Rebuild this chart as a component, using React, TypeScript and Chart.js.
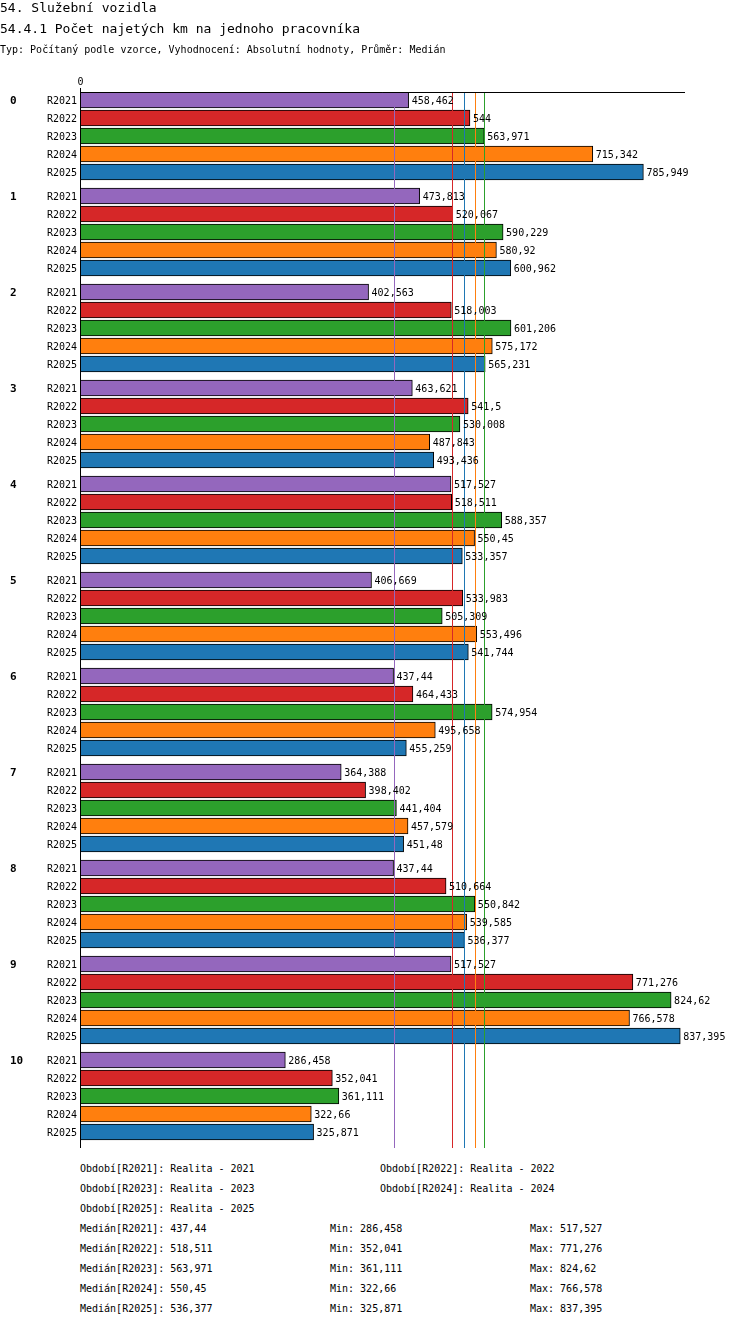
import React, { useEffect, useRef } from "react";
import { Chart, registerables } from "chart.js";
Chart.register(...registerables);

const groups = ["0", "1", "2", "3", "4", "5", "6", "7", "8", "9", "10"];
const seriesNames = ["R2021", "R2022", "R2023", "R2024", "R2025"];
const colors = ["#9467bd", "#d62728", "#2ca02c", "#ff7f0e", "#1f77b4"];
const r2021 = [458.462, 473.813, 402.563, 463.621, 517.527, 406.669, 437.44, 364.388, 437.44, 517.527, 286.458];
const r2022 = [544, 520.067, 518.003, 541.5, 518.511, 533.983, 464.433, 398.402, 510.664, 771.276, 352.041];
const r2023 = [563.971, 590.229, 601.206, 530.008, 588.357, 505.309, 574.954, 441.404, 550.842, 824.62, 361.111];
const r2024 = [715.342, 580.92, 575.172, 487.843, 550.45, 553.496, 495.658, 457.579, 539.585, 766.578, 322.66];
const r2025 = [785.949, 600.962, 565.231, 493.436, 533.357, 541.744, 455.259, 451.48, 536.377, 837.395, 325.871];
const medians = [437.44, 518.511, 563.971, 550.45, 536.377];
const mins = ["286,458", "352,041", "361,111", "322,66", "325,871"];
const maxs = ["517,527", "771,276", "824,62", "766,578", "837,395"];
const medText = ["437,44", "518,511", "563,971", "550,45", "536,377"];
const allSeries = [r2021, r2022, r2023, r2024, r2025];

const GROUP_STEP = 96 / 18;
const FONT = "'DejaVu Sans Mono', monospace";
const fmt = (v: number) => String(v).replace(".", ",");

export default function App() {
  const ref = useRef<HTMLCanvasElement>(null);
  useEffect(() => {
    const datasets = allSeries.map((s, si) => ({
      label: seriesNames[si],
      data: s.map((v, g) => ({ x: v, y: g * GROUP_STEP + si })),
      backgroundColor: colors[si],
      borderColor: "#000",
      borderWidth: 1,
      borderSkipped: false,
      barThickness: 16,
      grouped: false,
    }));
    const plugin = {
      id: "deco",
      afterDatasetsDraw(chart: any) {
        const ctx = chart.ctx;
        const xs = chart.scales.x, ys = chart.scales.y;
        const a = chart.chartArea;
        ctx.save();
        medians.forEach((m, i) => {
          const x = Math.round(xs.getPixelForValue(m)) + 0.5;
          ctx.strokeStyle = colors[i];
          ctx.lineWidth = 1;
          ctx.beginPath(); ctx.moveTo(x, a.top); ctx.lineTo(x, a.bottom); ctx.stroke();
        });
        ctx.strokeStyle = "#000";
        const x0 = Math.round(xs.getPixelForValue(0)) + 0.5;
        ctx.beginPath();
        ctx.moveTo(x0, a.top - 4); ctx.lineTo(x0, a.bottom);
        ctx.moveTo(a.left, a.top + 0.5); ctx.lineTo(a.right, a.top + 0.5);
        ctx.stroke();
        ctx.fillStyle = "#000";
        ctx.font = `10px ${FONT}`;
        ctx.textAlign = "center"; ctx.textBaseline = "bottom";
        ctx.fillText("0", x0, a.top - 5);
        ctx.textBaseline = "middle";
        allSeries.forEach((s, si) => {
          s.forEach((v, g) => {
            const y = ys.getPixelForValue(g * GROUP_STEP + si);
            ctx.textAlign = "left";
            ctx.font = `10px ${FONT}`;
            ctx.fillText(fmt(v), xs.getPixelForValue(v) + 3, y + 1);
            ctx.textAlign = "right";
            ctx.fillText(seriesNames[si], 77, y + 1);
            if (si === 0) {
              ctx.font = `bold 11px ${FONT}`;
              ctx.textAlign = "left";
              ctx.fillText(groups[g], 10, y + 1);
            }
          });
        });
        ctx.restore();
      },
    };
    const chart = new Chart(ref.current!, {
      type: "bar",
      data: { datasets: datasets as any },
      options: {
        indexAxis: "y",
        animation: false,
        responsive: false,
        layout: { padding: { left: 80, right: 65, top: 92, bottom: 12 } },
        scales: {
          x: { type: "linear", min: 0, max: 844, display: false, offset: false },
          y: { type: "linear", reverse: true, min: -8 / 18, max: 10 * GROUP_STEP + 4 + 16 / 18, display: false, offset: false, grace: 0 },
        },
        plugins: { legend: { display: false }, tooltip: { enabled: false } },
      },
      plugins: [plugin],
    });
    return () => chart.destroy();
  }, []);

  const line = (top: number, left: number, text: string) => (
    <div style={{ position: "absolute", top, left, fontSize: 10, whiteSpace: "pre" }}>{text}</div>
  );
  return (
    <div style={{ position: "absolute", left: 0, top: 0, width: 750, height: 1328, fontFamily: FONT, color: "#000", background: "#fff" }}>
      <canvas ref={ref} width={750} height={1160} style={{ position: "absolute", left: 0, top: 0 }} />
      <div style={{ position: "absolute", top: 0, left: 0, fontSize: 13, whiteSpace: "pre" }}>54. Služební vozidla</div>
      <div style={{ position: "absolute", top: 21, left: 0, fontSize: 13, whiteSpace: "pre" }}>54.4.1 Počet najetých km na jednoho pracovníka</div>
      <div style={{ position: "absolute", top: 44, left: 0, fontSize: 10, whiteSpace: "pre" }}>Typ: Počítaný podle vzorce, Vyhodnocení: Absolutní hodnoty, Průměr: Medián</div>
      {line(1163, 80, "Období[R2021]: Realita - 2021")}
      {line(1163, 380, "Období[R2022]: Realita - 2022")}
      {line(1183, 80, "Období[R2023]: Realita - 2023")}
      {line(1183, 380, "Období[R2024]: Realita - 2024")}
      {line(1203, 80, "Období[R2025]: Realita - 2025")}
      {seriesNames.map((n, i) => (
        <React.Fragment key={n}>
          {line(1223 + i * 20, 80, `Medián[${n}]: ${medText[i]}`)}
          {line(1223 + i * 20, 330, `Min: ${mins[i]}`)}
          {line(1223 + i * 20, 530, `Max: ${maxs[i]}`)}
        </React.Fragment>
      ))}
    </div>
  );
}
